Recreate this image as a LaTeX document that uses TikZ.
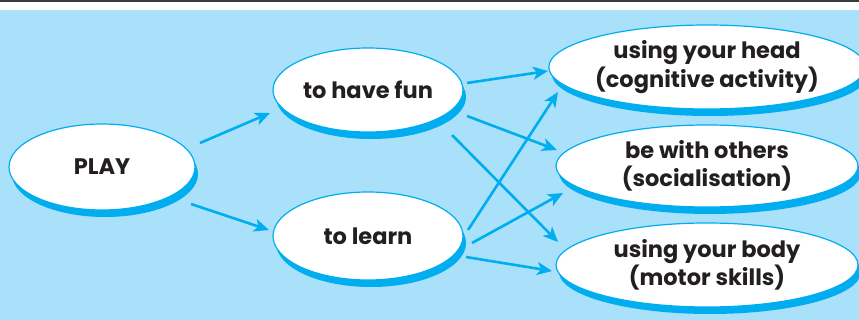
\documentclass[tikz,border=0pt]{standalone}
\usepackage{fontspec}
\setmainfont{Poppins}
\usetikzlibrary{shapes.geometric,arrows.meta,calc,shadows}
\definecolor{skyback}{HTML}{A9E0FA}
\definecolor{cyanline}{HTML}{00AEEF}
\definecolor{inkdark}{HTML}{231F20}
\definecolor{rulegrey}{HTML}{3A3A3A}
\tikzset{
  bubble/.style={ellipse, draw=cyanline, line width=1.2pt, fill=white,
    inner sep=0pt, align=center, text=inkdark,
    font=\fontsize{22.5}{28.5}\selectfont\bfseries,
    general shadow={fill=cyanline, shadow xshift=3pt, shadow yshift=-7pt}},
  arr/.style={draw=cyanline, line width=2.6pt,
    -{Stealth[length=15pt,width=13pt,inset=4pt]}}
}
\begin{document}
\begin{tikzpicture}[x=1pt,y=-1pt]
  \useasboundingbox (0,0) rectangle (859,320);
  % page strip and background panel
  \fill[white] (0,0) rectangle (859,320);
  \fill[rulegrey] (0,0) rectangle (859,2);
  \fill[skyback] (0,10) rectangle (859,320);

  % nodes
  \node[bubble, minimum width=186pt, minimum height=86pt] (play) at (102,167) {PLAY};
  \node[bubble, minimum width=190pt, minimum height=84pt] (fun) at (368,90) {to have fun};
  \node[bubble, minimum width=190pt, minimum height=88pt] (learn) at (368,236) {to learn};
  \node[bubble, minimum width=302pt, minimum height=84pt] (head) at (707,67) {using your head\\(cognitive activity)};
  \node[bubble, minimum width=302pt, minimum height=82pt] (others) at (707,166) {be with others\\(socialisation)};
  \node[bubble, minimum width=302pt, minimum height=84pt] (body) at (707,265) {using your body\\(motor skills)};

  % connectors
  \draw[arr] ($(play)+(98,-24)$) -- ($(fun)+(-98,23)$);
  \draw[arr] ($(play)+(89,37)$) -- ($(learn)+(-99,-6)$);
  \draw[arr] ($(fun)+(99,-7)$) -- ($(head)+(-159,4)$);
  \draw[arr] ($(fun)+(99,26)$) -- ($(others)+(-150,-16)$);
  \draw[arr] ($(fun)+(84,45)$) -- ($(body)+(-149,-23)$);
  \draw[arr] ($(learn)+(100,-6)$) -- ($(head)+(-149,25)$);
  \draw[arr] ($(learn)+(104,7)$) -- ($(others)+(-144,27)$);
  \draw[arr] ($(learn)+(98,21)$) -- ($(body)+(-155,6)$);
\end{tikzpicture}
\end{document}
